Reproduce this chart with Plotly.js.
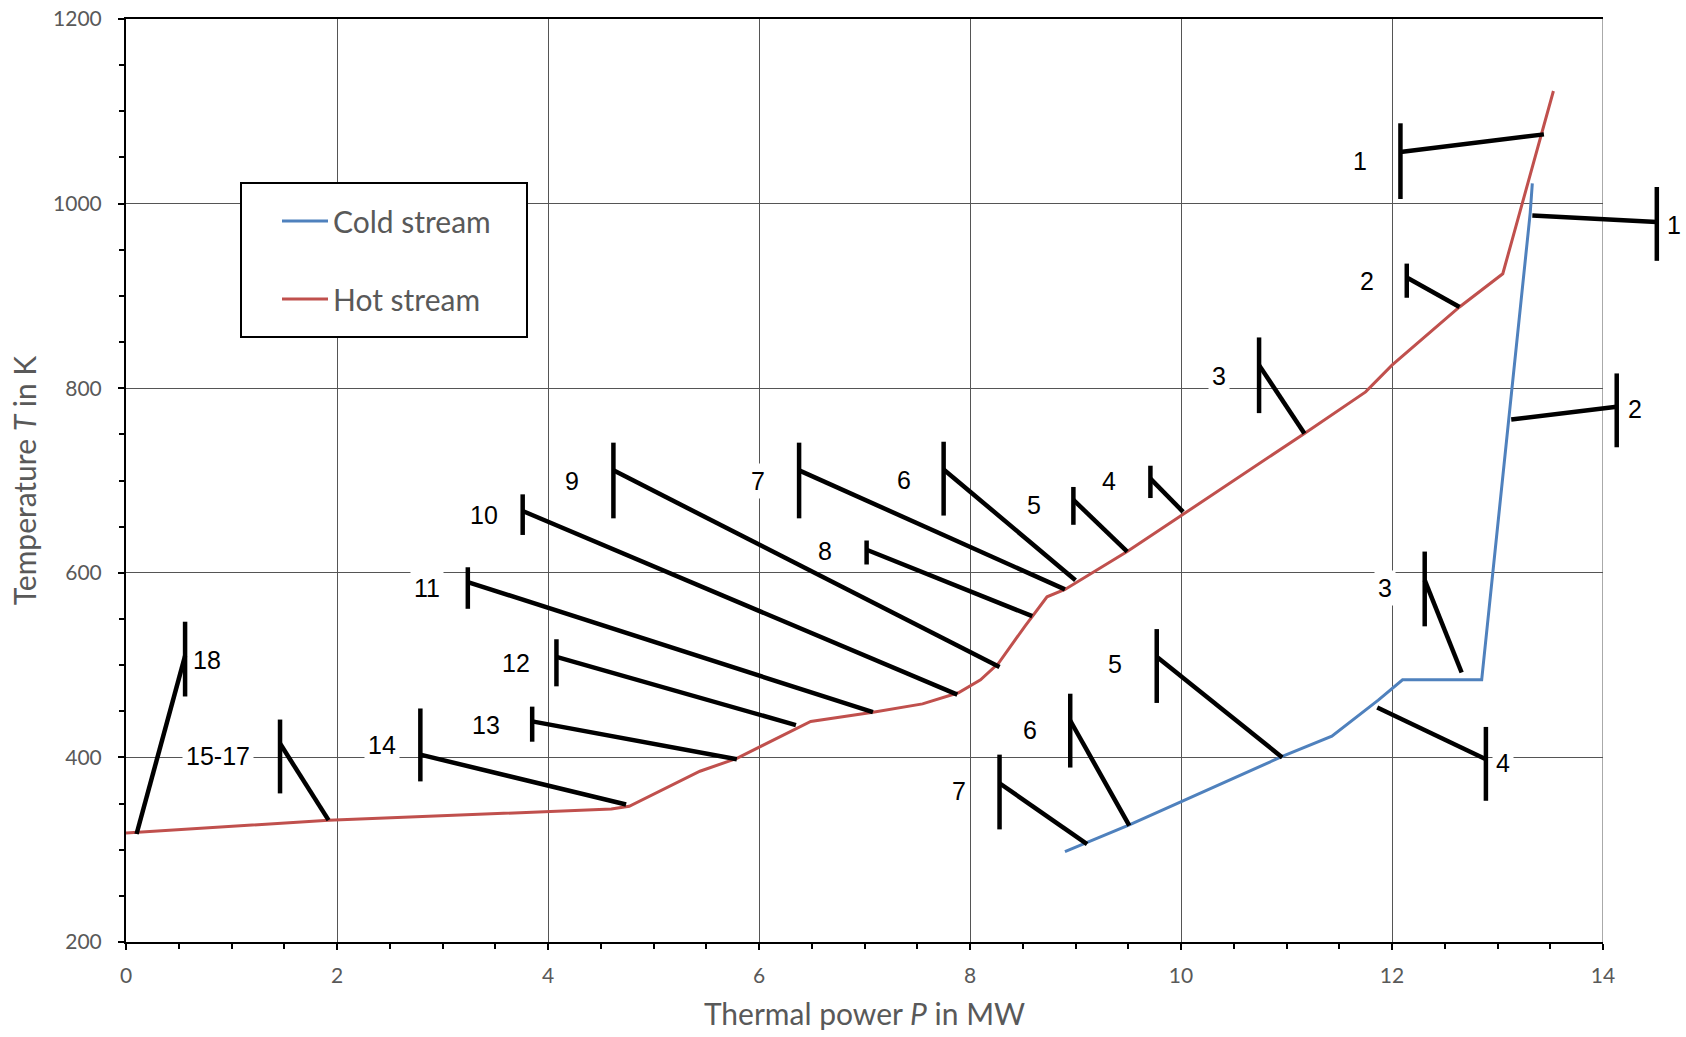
<!DOCTYPE html>
<html><head><meta charset="utf-8">
<script src="https://cdn.plot.ly/plotly-3.0.1.min.js"></script>
<style>html,body{margin:0;padding:0;background:#fff}#chart{width:1686px;height:1037px}</style>
</head><body><div id="chart"></div>
<script>
// Composite curves
const hotP  = [0, 1.92, 4.60, 4.77, 5.44, 5.79, 6.49, 7.08, 7.55, 7.89, 8.10, 8.27, 8.52, 8.73, 8.90, 9.23, 9.49, 11.17, 11.75, 12.0, 12.64, 13.05, 13.53];
const hotT  = [318, 332, 344, 347, 385, 399, 439, 449, 458, 470, 484, 502, 542, 574, 582, 605, 623, 751, 796, 825, 888, 924, 1122];
const coldP = [8.90, 9.51, 10.96, 11.43, 11.87, 12.10, 12.85, 13.31, 13.33];
const coldT = [298, 327, 401, 423, 462, 484, 484, 990, 1022];

// Hot stream segment markers
const hotLabels    = ['1','2','3','4','5','6','7','8','9','10','11','12','13','14','15-17','18'];
const hotBarP      = [12.08, 12.14, 10.74, 9.71, 8.98, 7.75, 6.38, 7.02, 4.62, 3.76, 3.24, 4.08, 3.85, 2.79, 1.46, 0.56];
const hotBarTop    = [1087, 935, 855, 716, 693, 742, 741, 635, 741, 685, 606, 528, 455, 453, 441, 547];
const hotBarBottom = [1005, 898, 773, 681, 652, 662, 659, 609, 659, 641, 561, 477, 417, 374, 361, 466];
const hotLeadT     = [1056, 920, 825, 702, 679, 712, 711, 625, 711, 667, 590, 509, 439, 403, 415, 510];
const hotEndP      = [13.44, 12.64, 11.17, 10.02, 9.49, 9.00, 8.90, 8.59, 8.28, 7.88, 7.08, 6.35, 5.79, 4.74, 1.92, 0.10];
const hotEndT      = [1075, 888, 751, 666, 623, 592, 582, 553, 498, 468, 449, 435, 398, 349, 332, 317];
const hotLabelP    = [11.70, 11.76, 10.36, 9.32, 8.61, 7.37, 5.99, 6.63, 4.23, 3.39, 2.85, 3.70, 3.41, 2.43, 0.87, 0.77];
const hotLabelT    = [1046, 916, 813, 699, 673, 701, 699, 624, 699, 663, 583, 502, 435, 413, 402, 505];

// Cold stream segment markers
const coldLabels    = ['1','2','3','4','5','6','7'];
const coldBarP      = [14.51, 14.13, 12.31, 12.89, 9.77, 8.95, 8.28];
const coldBarTop    = [1018, 816, 623, 433, 539, 469, 403];
const coldBarBottom = [938, 736, 542, 353, 459, 389, 322];
const coldLeadT     = [980, 780, 592, 398, 509, 440, 372];
const coldEndP      = [13.33, 13.13, 12.66, 11.86, 10.96, 9.51, 9.11];
const coldEndT      = [987, 766, 492, 454, 400, 326, 306];
const coldLabelP    = [14.67, 14.30, 11.93, 13.05, 9.37, 8.57, 7.90];
const coldLabelT    = [977, 777, 583, 394, 501, 430, 364];

// geometry of main axis inside the full-width helper axis
const ML = 126, MR = 5, MT = 19, MB = 95;
const plotW = 1686 - ML - MR;
const plotH = 1037 - MT - MB;
const mainFrac = 1477 / plotW;
const xMax = 14;
const px2paperX = p => (p - ML) / plotW;
const px2paperY = p => 1 - (p - MT) / plotH;

function segs(barP, top, bot, leadT, endP, endT) {
  const x = [], y = [];
  for (let i = 0; i < barP.length; i++) {
    x.push(barP[i], barP[i], null, barP[i], endP[i], null);
    y.push(top[i], bot[i], null, leadT[i], endT[i], null);
  }
  return {x, y};
}
const hs = segs(hotBarP, hotBarTop, hotBarBottom, hotLeadT, hotEndP, hotEndT);
const cs = segs(coldBarP, coldBarTop, coldBarBottom, coldLeadT, coldEndP, coldEndT);

const traces = [
  {x: coldP, y: coldT, type: 'scatter', mode: 'lines', name: 'Cold stream',
   line: {color: '#4F81BD', width: 3}, legendgroup: 'c', xaxis: 'x', yaxis: 'y'},
  {x: hotP, y: hotT, type: 'scatter', mode: 'lines', name: 'Hot stream',
   line: {color: '#C0504D', width: 3}, legendgroup: 'h', xaxis: 'x', yaxis: 'y'},
  {x: hs.x, y: hs.y, type: 'scatter', mode: 'lines', showlegend: false, hoverinfo: 'skip',
   line: {color: '#000', width: 4.5}, xaxis: 'x2', yaxis: 'y2'},
  {x: cs.x, y: cs.y, type: 'scatter', mode: 'lines', showlegend: false, hoverinfo: 'skip',
   line: {color: '#000', width: 4.5}, xaxis: 'x2', yaxis: 'y2'}
];

const annotations = [];
function addLabels(labels, px, py) {
  for (let i = 0; i < labels.length; i++) {
    annotations.push({x: px[i], y: py[i], xref: 'x2', yref: 'y2', text: labels[i], showarrow: false,
      font: {family: 'Liberation Sans, Arial, sans-serif', size: 25, color: '#000'},
      bgcolor: '#fff', borderpad: 3});
  }
}
addLabels(hotLabels, hotLabelP, hotLabelT);
addLabels(coldLabels, coldLabelP, coldLabelT);

const shapes = [
  // right border gridline at x = 14
  {type: 'line', xref: 'x', yref: 'paper', x0: xMax, x1: xMax, y0: 0, y1: 1,
   line: {color: '#555', width: 1}, layer: 'below'},
  // legend frame
  {type: 'rect', xref: 'paper', yref: 'paper', x0: px2paperX(241), x1: px2paperX(527),
   y0: px2paperY(337), y1: px2paperY(183), fillcolor: '#fff', line: {color: '#000', width: 2}, layer: 'above'}
];

const sans = 'Lato, "Open Sans", sans-serif';
const tickFont = {family: sans, size: 21, color: '#595959'};
const layout = {
  width: 1686, height: 1037,
  margin: {l: ML, r: MR, t: MT, b: MB},
  paper_bgcolor: '#fff', plot_bgcolor: 'rgba(0,0,0,0)',
  showlegend: true,
  xaxis: {domain: [0, mainFrac], range: [0, xMax], dtick: 2, tick0: 0,
    showgrid: true, gridcolor: '#555', gridwidth: 1, zeroline: false,
    showline: true, linecolor: '#000', linewidth: 2, mirror: true,
    ticks: 'outside', ticklen: 6, tickwidth: 2, tickcolor: '#000',
    minor: {dtick: 0.5, ticks: 'outside', ticklen: 5, tickwidth: 2, tickcolor: '#000', showgrid: false},
    tickfont: tickFont, ticklabelstandoff: 8, fixedrange: true,
    title: {text: 'Thermal power <i>P</i> in MW', standoff: 18,
      font: {family: sans, size: 30, color: '#595959'}}},
  yaxis: {domain: [0, 1], range: [200, 1200], dtick: 200, tick0: 200,
    showgrid: true, gridcolor: '#555', gridwidth: 1, zeroline: false,
    showline: true, linecolor: '#000', linewidth: 2,
    ticks: 'outside', ticklen: 6, tickwidth: 2, tickcolor: '#000',
    minor: {dtick: 50, ticks: 'outside', ticklen: 5, tickwidth: 2, tickcolor: '#000', showgrid: false},
    tickfont: tickFont, ticklabelstandoff: 12, fixedrange: true,
    title: {text: 'Temperature <i>T</i> in K', standoff: 8,
      font: {family: sans, size: 30, color: '#595959'}}},
  xaxis2: {domain: [0, 1], range: [0, xMax / mainFrac], anchor: 'y2', visible: false, fixedrange: true},
  yaxis2: {domain: [0, 1], range: [200, 1200], anchor: 'x2', visible: false, fixedrange: true},
  legend: {x: px2paperX(277), y: px2paperY(195), xanchor: 'left', yanchor: 'top',
    bgcolor: 'rgba(0,0,0,0)', borderwidth: 0, itemwidth: 46,
    font: {family: sans, size: 30, color: '#595959'},
    traceorder: 'grouped', tracegroupgap: 36},
  shapes: shapes,
  annotations: annotations
};

Plotly.newPlot('chart', traces, layout, {displayModeBar: false, staticPlot: true});
</script>
</body></html>
